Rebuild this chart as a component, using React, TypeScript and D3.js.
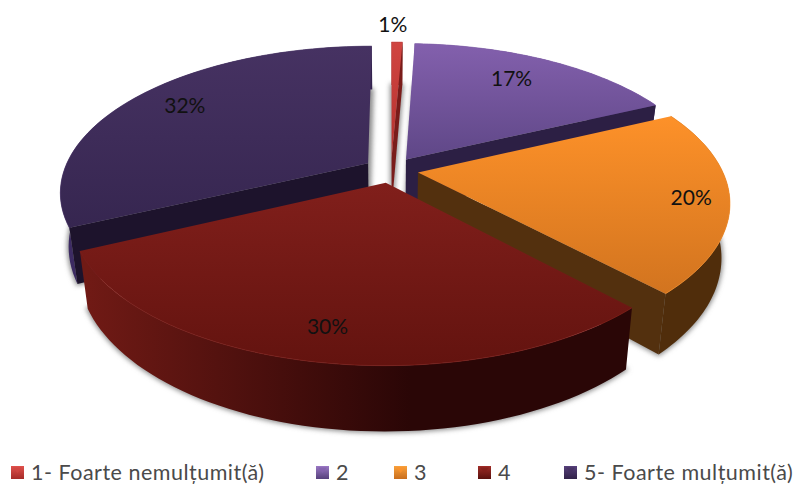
import React from "react";
import * as d3 from "d3";

const categories = ["1- Foarte nemulțumit(ă)", "2", "3", "4", "5- Foarte mulțumit(ă)"];
const values = [0.7, 17.3, 20, 30, 32];
const labels = ["1%", "17%", "20%", "30%", "32%"];

const topLight = ["#d04541", "#8360ad", "#fd9129", "#811f1b", "#463262"];
const topDark = ["#b5312e", "#5f4787", "#d2741f", "#63130f", "#362650"];
const sideColor = ["#7a1c1a", "#2c1f44", "#53300e", "#4a0e0c", "#1d132c"];
const wallLeft = ["#8a2422", "#4a3570", "#55300e", "#701a15", "#3d2b63"];
const wallRight = ["#7a1c1a", "#3f2d60", "#502d0b", "#2a0606", "#33234f"];
const legendTop = ["#e0514c", "#9a78c4", "#f9a13c", "#a02c27", "#57417c"];
const legendBottom = ["#a52b28", "#56407c", "#c96e1c", "#5a110e", "#322349"];

// back to front
const drawOrder = [0, 4, 1, 2, 3];
const labelRadius = [1.2, 0.78, 0.88, 0.83, 0.81];
const labelTurn = [-1, -2.5, 0, 0, 2]; // degrees, nudges the label off the bisector
const legendX = [11, 316, 394, 478, 564];

const cx = 391;
const cy = 170;
const radiusX = 304;
const radiusY = 142;
const persp = 0.193;
const depth = 52;
const explode = 0.09;
const shrink = 0.025;

// plane coords: px to the right, py toward the viewer, z 0 top 1 bottom
function project(px: number, py: number, z: number): [number, number] {
  const w = 1 - persp * py;
  return [
    cx + ((radiusX * px) / w) * (1 - shrink * z),
    cy + (radiusY * py) / w + (depth * z) / w,
  ];
}

const line = d3.line();

const arcs = d3.pie<number>().sort(null)(values);

function sliceGeom(i: number) {
  const a = arcs[i];
  const mid = (a.startAngle + a.endAngle) / 2;
  const ox = Math.sin(mid) * explode;
  const oy = -Math.cos(mid) * explode;
  const steps = d3.range(0, 61).map((s) => a.startAngle + ((a.endAngle - a.startAngle) * s) / 60);
  const rim = (z: number) =>
    steps.map((t) => project(ox + Math.sin(t), oy - Math.cos(t), z));
  const apex = (z: number) => project(ox, oy, z);
  const at = (f: number, turn: number) => {
    const t = mid + (turn * Math.PI) / 180;
    return project(ox + Math.sin(t) * f, oy - Math.cos(t) * f, 0);
  };
  // a cut face is only seen when its outward normal points at the viewer
  const showStart = Math.sin(a.startAngle) < 0;
  const showEnd = Math.sin(a.endAngle) > 0;
  return { rim, apex, at, showStart, showEnd };
}

export default function App() {
  const geoms = values.map((_, i) => sliceGeom(i));
  return (
    <svg
      width={795}
      height={484}
      style={{ position: "absolute", left: 0, top: 0, background: "#fff" }}
    >
      <defs>
        <filter id="soft" x="-10%" y="-10%" width="120%" height="120%">
          <feGaussianBlur stdDeviation="2.5" />
        </filter>
        {values.map((_, i) => {
          const ext = d3.extent(geoms[i].rim(0).concat([geoms[i].apex(0)]), (p) => p[1]) as [number, number];
          const extX = d3.extent(geoms[i].rim(1).concat([geoms[i].apex(1)]), (p) => p[0]) as [number, number];
          return (
            <React.Fragment key={i}>
              <linearGradient id={`top${i}`} gradientUnits="userSpaceOnUse" x1={0} x2={0} y1={ext[0]} y2={ext[1]}>
                <stop offset="0" stopColor={topLight[i]} />
                <stop offset="1" stopColor={topDark[i]} />
              </linearGradient>
              <linearGradient id={`wall${i}`} gradientUnits="userSpaceOnUse" x1={extX[0]} x2={extX[1]} y1={0} y2={0}>
                <stop offset="0" stopColor={wallLeft[i]} />
                <stop offset="0.6" stopColor={wallRight[i]} />
              </linearGradient>
              <linearGradient id={`leg${i}`} x1={0} x2={0} y1={0} y2={1}>
                <stop offset="0" stopColor={legendTop[i]} />
                <stop offset="1" stopColor={legendBottom[i]} />
              </linearGradient>
            </React.Fragment>
          );
        })}
      </defs>

      {/* soft shadow of the bottom plane */}
      <g filter="url(#soft)">
        {values.map((_, i) => (
          <path
            key={i}
            d={line([geoms[i].apex(1), ...geoms[i].rim(1)]) + "Z"}
            fill="#8c8c8c"
            stroke="#8c8c8c"
            strokeWidth={3}
          />
        ))}
      </g>

      {drawOrder.map((i) => {
        const g = geoms[i];
        const top = g.rim(0);
        const bottom = g.rim(1);
        const a0 = g.apex(0);
        const a1 = g.apex(1);
        return (
          <g key={i}>
            <path d={line([...top, ...bottom.slice().reverse()]) + "Z"} fill={`url(#wall${i})`} />
            {g.showStart && <path d={line([a0, top[0], bottom[0], a1]) + "Z"} fill={sideColor[i]} />}
            {g.showEnd && (
              <path d={line([a0, top[top.length - 1], bottom[bottom.length - 1], a1]) + "Z"} fill={sideColor[i]} />
            )}
            <path d={line([a0, ...top]) + "Z"} fill={`url(#top${i})`} />
            <path d={line(top) ?? ""} fill="none" stroke={topLight[i]} strokeOpacity={0.7} strokeWidth={1} />
          </g>
        );
      })}

      {labels.map((t, i) => {
        const p = geoms[i].at(labelRadius[i], labelTurn[i]);
        return (
          <text
            key={t}
            x={p[0]}
            y={p[1]}
            textAnchor="middle"
            dominantBaseline="central"
            fontFamily="Lato, sans-serif"
            fontSize={21}
            fill="#111"
          >
            {t}
          </text>
        );
      })}

      {categories.map((c, i) => (
        <g key={c} transform={`translate(${legendX[i]},466)`}>
          <rect width={13} height={13} fill={`url(#leg${i})`} />
          <path d="M2,1.5L11,1.5L6.5,7Z" fill={topLight[i]} fillOpacity={0.75} />
          <text x={20} y={6} dominantBaseline="central" fontFamily="Lato, sans-serif" fontSize={21.5} fill="#4a4a4a" letterSpacing={0.5}>
            {c}
          </text>
        </g>
      ))}
    </svg>
  );
}
